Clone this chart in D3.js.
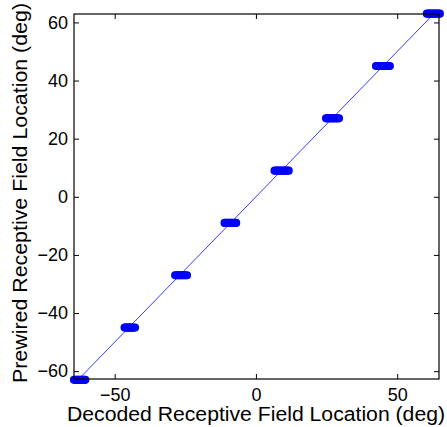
<!DOCTYPE html>
<html>
<head>
<meta charset="utf-8">
<script src="https://cdn.jsdelivr.net/npm/d3@7"></script>
<style>
  html, body { margin: 0; padding: 0; background: #fff; }
  svg { display: block; }
  text { font-family: "Liberation Sans", Arial, sans-serif; fill: #000; }
</style>
</head>
<body>
<div id="chart"></div>
<script>
// Prewired receptive field locations (deg), one per cluster
const prewired = [-63, -45, -27, -9, 9, 27, 45, 63];

// Decoded receptive field locations (deg) for each prewired location
const decoded = [
  [-64.4, -64.0, -63.6, -63.2, -62.9, -62.5, -62.1, -61.8, -61.4, -61.0, -60.7, -60.4],
  [-46.5, -46.1, -45.8, -45.4, -45.1, -44.8, -44.4, -44.1, -43.7, -43.3, -42.8],
  [-28.6, -28.2, -27.8, -27.4, -27.0, -26.6, -26.2, -25.8, -25.3, -24.9, -24.4],
  [-11.1, -10.7, -10.3, -9.9, -9.5, -9.1, -8.7, -8.3, -7.8, -7.4, -7.0],
  [6.6, 7.1, 7.6, 8.1, 8.6, 9.1, 9.6, 10.1, 10.6, 11.1, 11.6],
  [24.8, 25.2, 25.7, 26.1, 26.6, 27.0, 27.5, 27.9, 28.4, 28.9, 29.4],
  [42.5, 43.0, 43.5, 44.0, 44.5, 45.0, 45.5, 46.0, 46.5, 46.9, 47.4],
  [60.5, 61.0, 61.4, 61.9, 62.3, 62.8, 63.2, 63.7, 64.1, 64.6, 65.1]
];

// Identity reference line end points
const identity = [-63, 63];

const xTicks = [-50, 0, 50];
const yTicks = [-60, -40, -20, 0, 20, 40, 60];

const W = 447, H = 427;
const margin = { left: 74, right: 8, top: 14, bottom: 48 };

const svg = d3.select("#chart").append("svg")
  .attr("width", W).attr("height", H);

const x = d3.scaleLinear().domain([-64.4, 64.8])
  .range([margin.left, W - margin.right]);
const y = d3.scaleLinear().domain([-62.7, 62.9])
  .range([H - margin.bottom, margin.top]);

const fmt = d => (d < 0 ? "\u2212" + Math.abs(d) : String(d));

// Identity line
svg.append("line")
  .attr("x1", x(identity[0])).attr("y1", y(identity[0]))
  .attr("x2", x(identity[1])).attr("y2", y(identity[1]))
  .attr("stroke", "#3a3aff").attr("stroke-width", 1);

// Decoded points, drawn as open circles
const pts = [];
prewired.forEach((p, i) => decoded[i].forEach(d => pts.push({ d, p })));
svg.append("g").selectAll("circle").data(pts).join("circle")
  .attr("cx", d => x(d.d)).attr("cy", d => y(d.p))
  .attr("r", 3.2)
  .attr("fill", "none")
  .attr("stroke", "#0000ff")
  .attr("stroke-width", 1.8);

// Axes with inward ticks on all four sides
const tickLen = 5;
svg.append("g")
  .attr("transform", `translate(0,${H - margin.bottom})`)
  .call(d3.axisBottom(x).tickValues(xTicks).tickSizeInner(-tickLen).tickSizeOuter(0).tickPadding(9).tickFormat(fmt))
  .call(g => g.selectAll("text").attr("font-size", 18))
  .call(g => g.select(".domain").remove());
svg.append("g")
  .attr("transform", `translate(0,${margin.top})`)
  .call(d3.axisTop(x).tickValues(xTicks).tickSizeInner(-tickLen).tickSizeOuter(0).tickFormat(""))
  .call(g => g.select(".domain").remove());
svg.append("g")
  .attr("transform", `translate(${margin.left},0)`)
  .call(d3.axisLeft(y).tickValues(yTicks).tickSizeInner(-tickLen).tickSizeOuter(0).tickPadding(6).tickFormat(fmt))
  .call(g => g.selectAll("text").attr("font-size", 18))
  .call(g => g.select(".domain").remove());
svg.append("g")
  .attr("transform", `translate(${W - margin.right},0)`)
  .call(d3.axisRight(y).tickValues(yTicks).tickSizeInner(-tickLen).tickSizeOuter(0).tickFormat(""))
  .call(g => g.select(".domain").remove());

svg.selectAll(".tick line").attr("stroke", "#000").attr("stroke-width", 1);

// Plot box
svg.append("rect")
  .attr("x", margin.left).attr("y", margin.top)
  .attr("width", W - margin.left - margin.right)
  .attr("height", H - margin.top - margin.bottom)
  .attr("fill", "none").attr("stroke", "#000").attr("stroke-width", 1.2);

// Axis titles
svg.append("text")
  .attr("x", 256)
  .attr("y", H - 6)
  .attr("text-anchor", "middle")
  .attr("font-size", 19.5)
  .attr("textLength", 378)
  .attr("lengthAdjust", "spacingAndGlyphs")
  .text("Decoded Receptive Field Location (deg)");
svg.append("text")
  .attr("transform", `translate(27,193) rotate(-90)`)
  .attr("text-anchor", "middle")
  .attr("font-size", 19.5)
  .attr("textLength", 380)
  .attr("lengthAdjust", "spacingAndGlyphs")
  .text("Prewired Receptive Field Location (deg)");
</script>
</body>
</html>
